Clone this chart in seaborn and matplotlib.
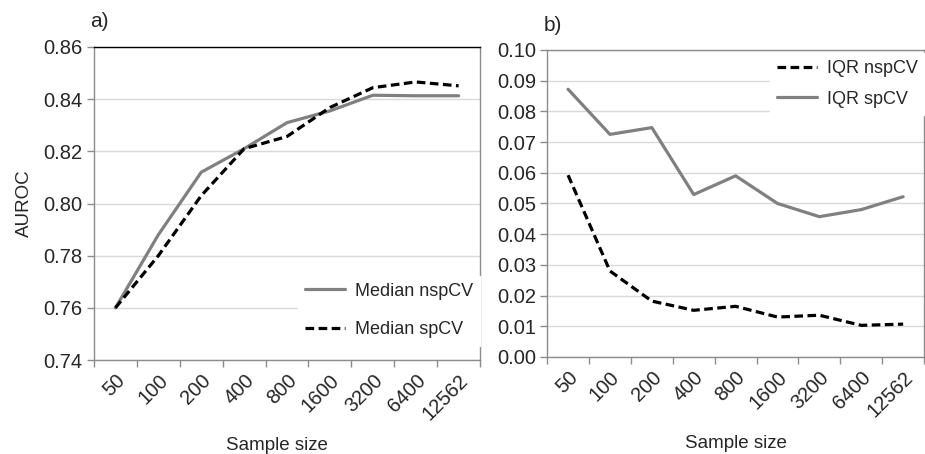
"""
Sample size vs AUROC (median) and IQR, nspCV vs spCV
"""
import pandas as pd
import numpy as np
import matplotlib.pyplot as plt
import seaborn as sns
from matplotlib.ticker import FixedLocator, MultipleLocator

sns.set_style('white')
plt.rcParams['font.family'] = ['Liberation Sans', 'DejaVu Sans']

# 데이터
sample_sizes = ['50', '100', '200', '400', '800', '1600', '3200', '6400', '12562']
median_nspcv = [0.760, 0.788, 0.812, 0.821, 0.831, 0.8355, 0.8415, 0.8413, 0.8413]
median_spcv = [0.760, 0.780, 0.803, 0.821, 0.8257, 0.8368, 0.8444, 0.8466, 0.8451]
iqr_nspcv = [0.0592, 0.0280, 0.0182, 0.0152, 0.0165, 0.0130, 0.0136, 0.0103, 0.0107]
iqr_spcv = [0.0872, 0.0725, 0.0747, 0.0529, 0.0590, 0.0500, 0.0457, 0.0480, 0.0522]

GRAY = '#808080'
GRID = '#d9d9d9'
SPINE = '#8c8c8c'
DASH = (2.7, 1.4)
FS = 14.5

x = np.arange(len(sample_sizes))

df_a = pd.DataFrame({
    'x': np.concatenate([x, x]),
    'value': median_nspcv + median_spcv,
    'series': ['Median nspCV'] * len(x) + ['Median spCV'] * len(x),
})
df_b = pd.DataFrame({
    'x': np.concatenate([x, x]),
    'value': iqr_nspcv + iqr_spcv,
    'series': ['IQR nspCV'] * len(x) + ['IQR spCV'] * len(x),
})

fig = plt.figure(figsize=(9.25, 4.54), dpi=100)
ax1 = fig.add_axes([0.1016, 0.207, 0.4174, 0.6895])
ax2 = fig.add_axes([0.5915, 0.2137, 0.4075, 0.6763])


def style_axis(ax, ylim, ystep):
    ax.set_xlim(-0.5, len(sample_sizes) - 0.5)
    ax.set_ylim(*ylim)
    ax.yaxis.set_major_locator(MultipleLocator(ystep))
    ax.yaxis.set_major_formatter(plt.FuncFormatter(lambda v, p: f'{v:.2f}'))
    ax.set_xticks(x)
    ax.set_xticklabels(sample_sizes, rotation=45, ha='right', rotation_mode='anchor', fontsize=FS)
    ax.xaxis.set_minor_locator(FixedLocator(np.arange(-0.5, len(sample_sizes), 1.0)))
    ax.tick_params(axis='x', which='major', length=0, pad=8)
    ax.tick_params(axis='x', which='minor', length=5, color=SPINE, width=1, direction='out', bottom=True)
    ax.tick_params(axis='y', length=5, color=SPINE, width=1, direction='out', left=True, labelsize=FS, pad=3)
    ax.grid(axis='y', color=GRID, linewidth=1)
    ax.set_axisbelow(True)
    for s in ax.spines.values():
        s.set_color(SPINE)
        s.set_linewidth(1)
    ax.set_xlabel('Sample size', fontsize=13.5)


def white_legend(ax, anchor, spacing):
    h, l = ax.get_legend_handles_labels()
    leg = ax.legend(h, l, loc='upper left', bbox_to_anchor=anchor, bbox_transform=fig.transFigure,
                    frameon=True, fontsize=13, handlelength=2.2, labelspacing=spacing,
                    handletextpad=0.55, borderaxespad=0.0, fancybox=False)
    leg.get_frame().set_edgecolor('white')
    leg.get_frame().set_facecolor('white')
    leg.get_frame().set_alpha(1)
    return leg


# a) Median AUROC
sns.lineplot(data=df_a, x='x', y='value', hue='series', style='series',
             palette={'Median nspCV': GRAY, 'Median spCV': 'black'},
             dashes={'Median nspCV': '', 'Median spCV': DASH},
             linewidth=2.3, ax=ax1, legend=True)
style_axis(ax1, (0.74, 0.86), 0.02)
ax1.spines['top'].set_color('black')
ax1.set_ylabel('AUROC', fontsize=13.5, labelpad=8)
ax1.xaxis.set_label_coords(0.474, -0.245)
white_legend(ax1, (0.322, 0.393), 1.2)
ax1.text(-0.01, 1.05, 'a)', transform=ax1.transAxes, fontsize=15, ha='left', va='bottom')

# b) IQR
sns.lineplot(data=df_b, x='x', y='value', hue='series', style='series',
             palette={'IQR nspCV': 'black', 'IQR spCV': GRAY},
             dashes={'IQR nspCV': DASH, 'IQR spCV': ''},
             linewidth=2.3, ax=ax2, legend=True)
style_axis(ax2, (0.0, 0.10), 0.01)
ax2.set_ylabel('')
ax2.xaxis.set_label_coords(0.5, -0.255)
white_legend(ax2, (0.8324, 0.8833), 0.75)
ax2.text(-0.01, 1.05, 'b)', transform=ax2.transAxes, fontsize=15, ha='left', va='bottom')

fig.savefig('out.png', dpi=100)
plt.close(fig)
